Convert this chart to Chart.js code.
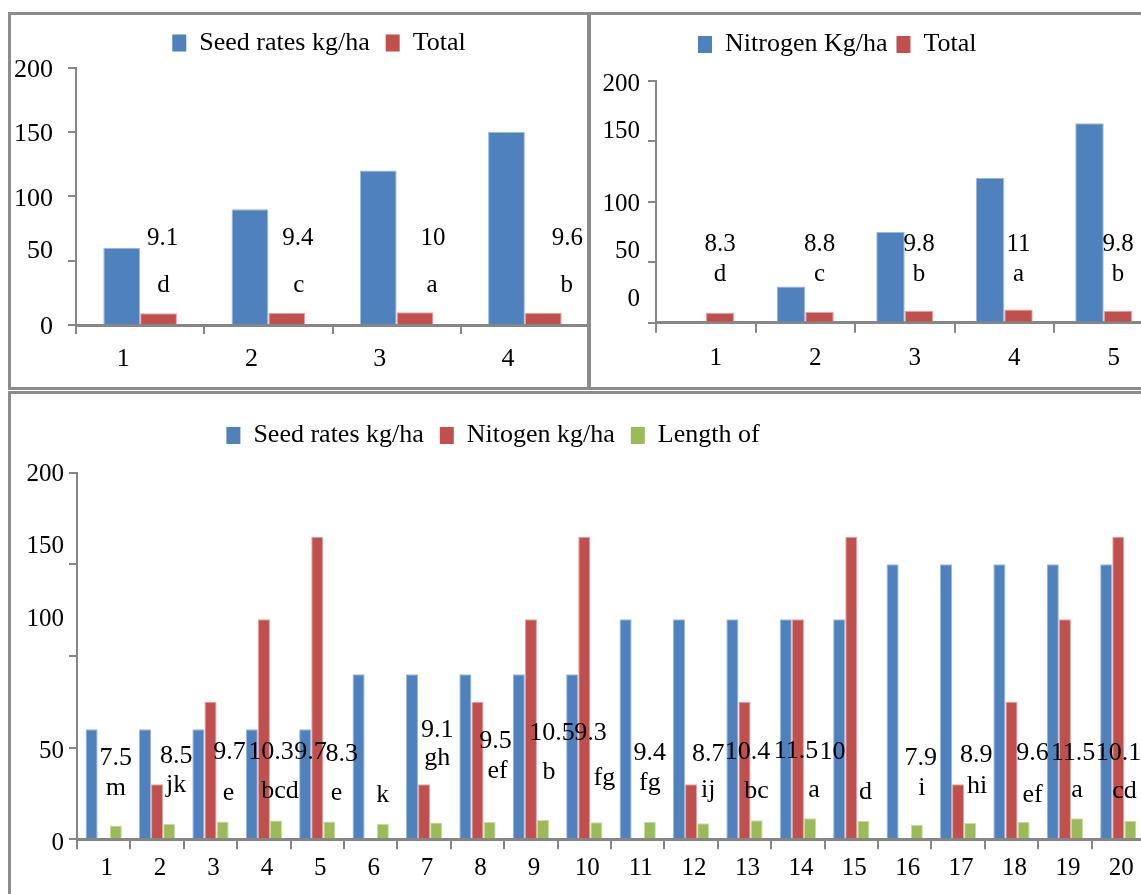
<!DOCTYPE html>
<html><head><meta charset="utf-8">
<script src="https://cdn.jsdelivr.net/npm/chart.js@4.4.1/dist/chart.umd.min.js"></script>
<style>
html,body{margin:0;padding:0;background:#fff;overflow:hidden;width:1141px;height:894px;}
.panel{position:absolute;border:3px solid #8c8c8c;overflow:hidden;background:#fff;}
.panel canvas{position:absolute;left:0;top:0;}
</style></head><body>
<div class="panel" style="left:8px;top:12px;width:576px;height:372px"><canvas id="cA" width="578" height="372"></canvas></div>
<div class="panel" style="left:588px;top:12px;width:566px;height:372px"><canvas id="cB" width="566" height="372"></canvas></div>
<div class="panel" style="left:8px;top:391px;width:1136px;height:500px"><canvas id="cC" width="1136" height="500"></canvas></div>
<script>
// ---------- DATA ----------
const catsA = ['1', '2', '3', '4'];
const seedRatesA = [60, 90, 120, 150];
const totalA = [9.1, 9.4, 10, 9.6];
const lettersA = ['d', 'c', 'a', 'b'];

const catsB = ['1', '2', '3', '4', '5'];
const nitrogenB = [0, 30, 75, 120, 165];
const totalB = [8.3, 8.8, 9.8, 11, 9.8];
const lettersB = ['d', 'c', 'b', 'a', 'b'];

const catsC = ['1','2','3','4','5','6','7','8','9','10','11','12','13','14','15','16','17','18','19','20'];
const seedRatesC = [60, 60, 60, 60, 60, 90, 90, 90, 90, 90, 120, 120, 120, 120, 120, 150, 150, 150, 150, 150];
const nitrogenC = [0, 30, 75, 120, 165, 0, 30, 75, 120, 165, 0, 30, 75, 120, 165, 0, 30, 75, 120, 165];
const lengthC = [7.5, 8.5, 9.7, 10.3, 9.7, 8.3, 9.1, 9.5, 10.5, 9.3, 9.4, 8.7, 10.4, 11.5, 10, 7.9, 8.9, 9.6, 11.5, 10.1];
const lettersC = ['m', 'jk', 'e', 'bcd', 'e', 'k', 'gh', 'ef', 'b', 'fg', 'fg', 'ij', 'bc', 'a', 'd', 'i', 'hi', 'ef', 'a', 'cd'];

const yTickLabels = ['0', '50', '100', '150', '200'];

// ---------- STYLE ----------
const BLUE = '#4F81BD', RED = '#C0504D', GREEN = '#9BBB59', AXIS = '#868686';
const BLUE_EDGE = '#9DB8DC', RED_EDGE = '#E0A3A1', GREEN_EDGE = '#C8DAA8';
const FONT = "'Liberation Serif','Times New Roman',serif";
Chart.defaults.font.family = FONT;
Chart.defaults.color = '#000';

function legendPlacer(startX, midY, fs) {
  return { id: 'legendPlacer', afterLayout(chart) {
    const lg = chart.legend; if (!lg || !lg.lineWidths) return;
    const pad = lg.options.labels.padding;
    const curX = (lg.left + pad + lg.right - lg.lineWidths[0]) / 2;
    const dx = startX - curX;
    lg.left += dx; lg.right += dx;
    lg.top = midY - pad - fs / 2;
    lg.height = pad * 2 + fs + 6;
    lg.bottom = lg.top + lg.height;
  }};
}

function valueLabeler(cfg) {
  const pick = (arr, i) => arr ? arr[i] : 0;
  return { id: 'valueLabeler', afterDatasetsDraw(chart) {
    const ctx = chart.ctx, meta = chart.getDatasetMeta(cfg.anchor), ys = chart.scales.y;
    ctx.save();
    ctx.fillStyle = '#000';
    ctx.font = cfg.size + 'px ' + FONT;
    ctx.textAlign = 'center';
    ctx.textBaseline = 'alphabetic';
    const yn = ys.getPixelForValue(cfg.numAt), yl = ys.getPixelForValue(cfg.letAt);
    cfg.nums.forEach((n, i) => {
      const x = meta.data[i].x;
      ctx.fillText(String(n), x + pick(cfg.ndx, i), yn + pick(cfg.ndy, i));
      ctx.fillText(cfg.lets[i], x + pick(cfg.ldx, i), yl + pick(cfg.ldy, i));
    });
    ctx.restore();
  }};
}

function build(id, labels, datasets, L, vl) {
  return new Chart(document.getElementById(id), {
    type: 'bar',
    data: { labels, datasets },
    options: {
      responsive: false, animation: false, devicePixelRatio: 1,
      layout: { padding: { top: L.padTop, left: 0, right: L.padRight, bottom: 0 } },
      datasets: { bar: { categoryPercentage: L.catPct, barPercentage: 1, borderWidth: 1, borderSkipped: 'start' } },
      plugins: {
        tooltip: { enabled: false },
        legend: { display: true, position: 'top', maxHeight: 20,
          labels: { boxWidth: 14, boxHeight: 17, padding: L.legendPad, color: '#000', font: { size: 26, family: FONT },
            generateLabels: chart => chart.data.datasets.map((ds, i) => ({
              text: ds.label, fillStyle: ds.backgroundColor, strokeStyle: ds.backgroundColor, lineWidth: 0,
              hidden: false, datasetIndex: i, fontColor: '#000' })) } }
      },
      scales: {
        x: { type: 'category', offset: true,
          grid: { offset: true, drawOnChartArea: false, drawTicks: true, tickLength: L.xTick, color: AXIS, lineWidth: 2 },
          border: { display: true, color: AXIS, width: 3 },
          ticks: { color: '#000', font: { size: L.xFont, family: FONT }, padding: L.xPad, labelOffset: L.xLabelOffset, autoSkip: false, maxRotation: 0 },
          afterFit: s => { s.height = L.xHeight; } },
        y: { type: 'linear', position: 'left', min: 0, max: 200, weight: 0,
          ticks: { display: false, stepSize: 50 },
          grid: { drawOnChartArea: false, drawTicks: true, tickLength: 8, color: AXIS, lineWidth: 2 },
          border: { display: true, color: AXIS, width: 2 },
          afterFit: s => { s.width = 8; } },
        yl: { type: 'linear', position: 'left', min: 0, max: 200, weight: 1,
          grid: { display: false, drawTicks: false }, border: { display: false },
          ticks: { color: '#000', font: { size: L.yFont, family: FONT }, padding: L.yPad, autoSkip: false,
            callback: (v, i) => yTickLabels[i] },
          afterBuildTicks: s => { s.ticks = L.yLabelAt.map(v => ({ value: v })); },
          afterFit: s => { s.width = L.ylWidth; } }
      }
    },
    plugins: [legendPlacer(L.legendStartX, L.legendMidY, 26), valueLabeler(vl)]
  });
}

build('cA', catsA, [
  { label: 'Seed rates kg/ha', data: seedRatesA, backgroundColor: BLUE, borderColor: BLUE_EDGE },
  { label: 'Total', data: totalA, backgroundColor: RED, borderColor: RED_EDGE }
], { padTop: 32.7, padRight: 0, catPct: 0.574, legendPad: 16, legendStartX: 161.3, legendMidY: 28,
     xTick: 9, xFont: 26, xPad: 10, xLabelOffset: -17, xHeight: 62,
     yFont: 26, yPad: 15, ylWidth: 57, yLabelAt: [-2, 57, 98, 148, 198] },
   { anchor: 1, nums: totalA, lets: lettersA, size: 25, numAt: 62.2, letAt: 25.9,
     ndx: [4, 11, 18, 24], ldx: [5, 12, 17, 23.5] });

build('cB', catsB, [
  { label: 'Nitrogen Kg/ha', data: nitrogenB, backgroundColor: BLUE, borderColor: BLUE_EDGE },
  { label: 'Total', data: totalB, backgroundColor: RED, borderColor: RED_EDGE }
], { padTop: 46, padRight: 3.5, catPct: 0.573, legendPad: 9, legendStartX: 107, legendMidY: 29.5,
     xTick: 10, xFont: 25, xPad: 11, xLabelOffset: 10, xHeight: 64.3,
     yFont: 25, yPad: 8, ylWidth: 57, yLabelAt: [19, 59, 98, 158, 197] },
   { anchor: 1, nums: totalB, lets: lettersB, size: 25, numAt: 59.3, letAt: 34.9 });

build('cC', catsC, [
  { label: 'Seed rates kg/ha', data: seedRatesC, backgroundColor: BLUE, borderColor: BLUE_EDGE },
  { label: 'Nitogen kg/ha', data: nitrogenC, backgroundColor: RED, borderColor: RED_EDGE },
  { label: 'Length of', data: lengthC, backgroundColor: GREEN, borderColor: GREEN_EDGE }
], { padTop: 58.7, padRight: 2, catPct: 0.68, legendPad: 16, legendStartX: 215.4, legendMidY: 41.5,
     xTick: 10, xFont: 25, xPad: 4, xLabelOffset: 3, xHeight: 54.7,
     yFont: 25, yPad: 5, ylWidth: 58, yLabelAt: [-2, 48, 120, 160, 199] },
   { anchor: 2, nums: lengthC, lets: lettersC, size: 26, numAt: 43.3, letAt: 23.1,
     ndx: [0, 7, 7, -5, -19, -41, 1, 6, 9, -6, 0, 5, -9, -14, -31, 4, 6, 9, -4, -12],
     ndy: [5, 3, -1, -1, -1, 1, -23, -12, -20, -20, 0, 1, -1, -2, -1, 5, 2, 0, 0, 0],
     ldx: [0, 7, 6, 4, 7, 0, 1, 8, 6, 8, 0, 5, 0, 4, 2, 5, 7, 9, 0, -6],
     ldy: [-2, -5, 3, 1, 3, 5, -32, -19, -18, -12, -7, 0, 1, 0, 2, -2, -4, 5, 0, 1] });
</script>
</body></html>
